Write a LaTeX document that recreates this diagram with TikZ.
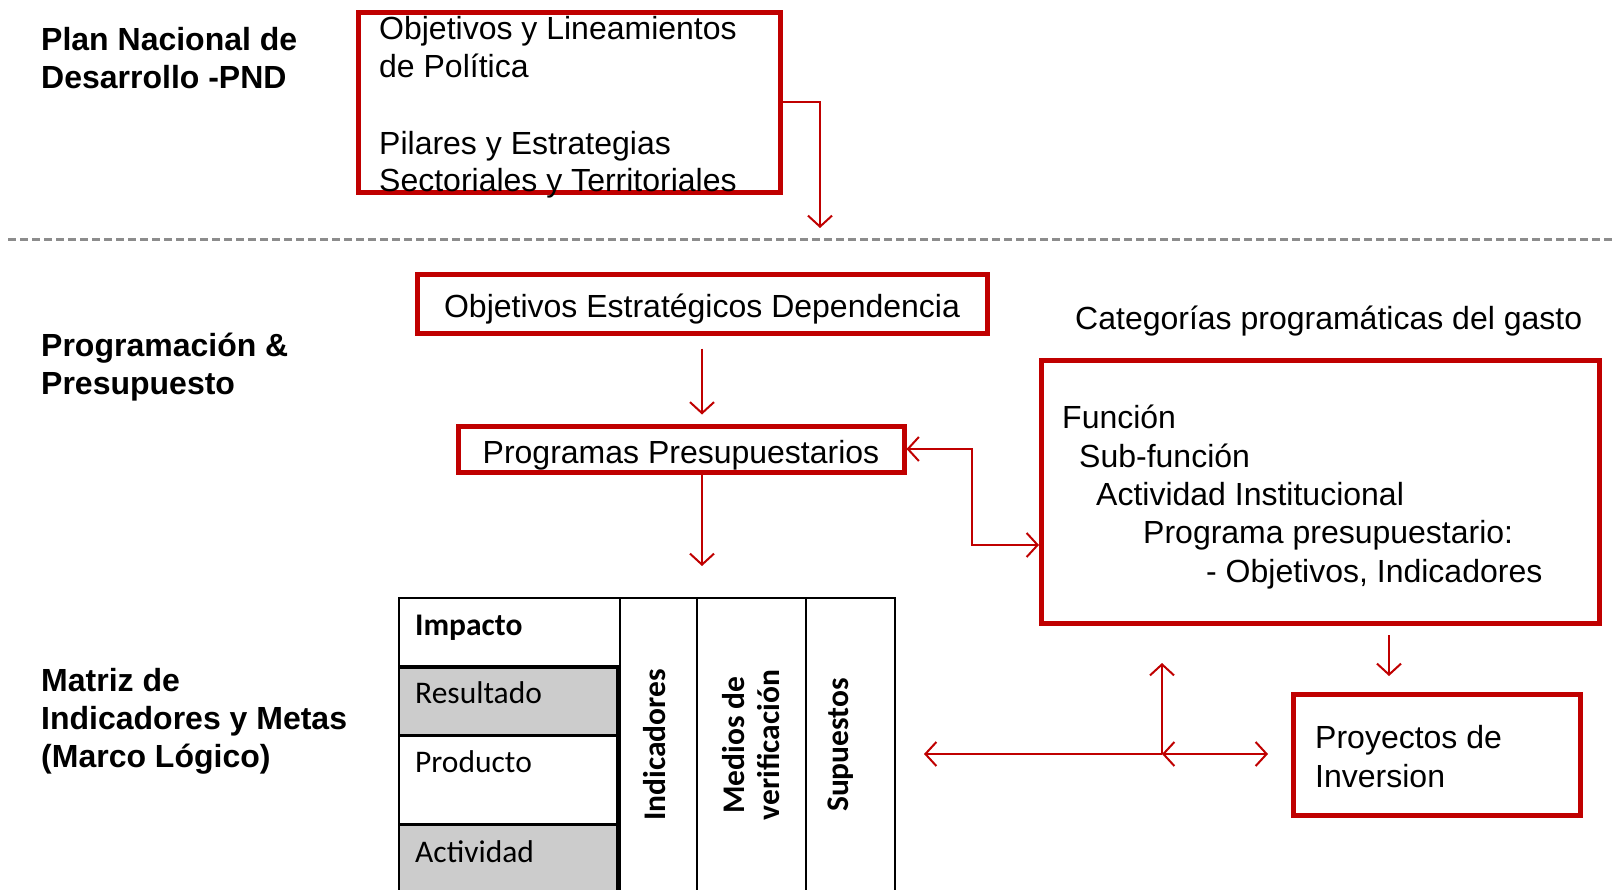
\documentclass[tikz,border=0pt]{standalone}
\usepackage{fontspec}
\setmainfont{Liberation Sans}
\newfontfamily\calfont{Carlito}
\usetikzlibrary{arrows.meta}
\definecolor{rd}{HTML}{C00000}
\definecolor{grfill}{HTML}{CCCCCC}
\definecolor{dashgray}{HTML}{8C8C8C}
\tikzset{
  barbtip/.tip={Straight Barb[length=11pt,width=24pt,line width=2pt]},
  redbox/.style={draw=rd,line width=5pt,inner sep=0pt},
  conn/.style={draw=rd,line width=2pt,-{barbtip}},
  conn2/.style={draw=rd,line width=2pt,{barbtip}-{barbtip}},
  txt/.style={inner sep=0pt,anchor=base west,font=\fontsize{32}{38}\selectfont},
  lbl/.style={inner sep=0pt,anchor=base west,font=\bfseries\fontsize{32}{38}\selectfont},
  mtx/.style={inner sep=0pt,anchor=base west,font=\calfont\fontsize{31.5}{38}\selectfont},
  vtx/.style={inner sep=0pt,rotate=90,align=center,font=\calfont\bfseries\fontsize{31.5}{35}\selectfont},
  mline/.style={draw=black,line width=2.5pt},
}
\begin{document}
\begin{tikzpicture}[x=1pt,y=1pt]
\useasboundingbox[fill=white] (0,0) rectangle (1613,-890);
\begin{scope}
\clip (0,0) rectangle (1613,-890);

% left labels
\node[lbl] (l1) at (41,-51) {Plan Nacional de};
\node[lbl] (l2) at (41,-89) {Desarrollo -PND};
\node[lbl] (l3) at (41,-356) {Programación \&};
\node[lbl] (l4) at (41,-394) {Presupuesto};
\node[lbl] (l5) at (41,-691) {Matriz de};
\node[lbl] (l6) at (41,-729) {Indicadores y Metas};
\node[lbl] (l7) at (41,-767) {(Marco Lógico)};

% dashed separator
\draw[dashgray,line width=3pt,dash pattern=on 8pt off 4pt] (8,-240) -- (1613,-240);

% top box
\node[redbox,minimum width=422pt,minimum height=180pt] (pnd) at (569.5,-102.5) {};
\node[txt] (t1) at (379,-40) {Objetivos y Lineamientos};
\node[txt] (t2) at (379,-78) {de Política};
\node[txt] (t3) at (379,-155) {Pilares y Estrategias};
\node[txt] (t4) at (379,-192) {Sectoriales y Territoriales};
\coordinate (a1) at (820,-228);
\draw[conn] (pnd.east) -| (a1);

% programming boxes
\node[redbox,minimum width=570pt,minimum height=58pt,text height=35pt,text depth=7pt,font=\fontsize{32}{38}\selectfont] (oed) at (702,-304) {Objetivos Estratégicos Dependencia};
\node[redbox,minimum width=446pt,minimum height=46pt,text height=35pt,text depth=7pt,font=\fontsize{32}{38}\selectfont] (prog) at (681,-449) {Programas Presupuestarios};
\draw[conn,shorten <=13pt,shorten >=9pt] (oed.south) -- (oed.south |- prog.north);
\coordinate (m1) at (702,-566);
\draw[conn] (m1 |- prog.south) -- (m1);

% categorias
\node[txt] (catl) at (1075,-330) {Categorías programáticas del gasto};
\node[redbox,minimum width=558pt,minimum height=263pt] (cat) at (1320.5,-492) {};
\node[txt] (c1) at (1062,-428) {Función};
\node[txt] (c2) at (1079,-467) {Sub-función};
\node[txt] (c3) at (1096,-505) {Actividad Institucional};
\node[txt] (c4) at (1143,-543) {Programa presupuestario:};
\node[txt] (c5) at (1206,-582) {- Objetivos, Indicadores};
\coordinate (k1) at (972,-449);
\draw[conn2] (prog.east) -- (k1) |- ([yshift=-53pt]cat.west);

% proyectos
\node[redbox,minimum width=287pt,minimum height=121pt] (proy) at (1437,-755) {};
\node[txt] (p1) at (1315,-748) {Proyectos de};
\node[txt] (p2) at (1315,-787) {Inversion};
\coordinate (d1) at (1389,-635);
\coordinate (d2) at (1389,-676);
\draw[conn] (d1) -- (d2);

% cross arrows
\coordinate (j) at (1162,-754);
\coordinate (jl) at (924,-754);
\coordinate (ju) at (1162,-663);
\coordinate (jr) at (1268,-754);
\draw[conn] (j) -- (jl);
\draw[conn] (j) -- (ju);
\draw[conn2] (j) -- (jr);

% matrix
\fill[grfill] (399,-667) rectangle (619,-735);
\fill[grfill] (399,-824) rectangle (619,-900);
\draw[mline] (399,-900) -- (399,-598) -- (895,-598) -- (895,-900);
\draw[mline] (620,-598) -- (620,-900);
\draw[mline] (697,-598) -- (697,-900);
\draw[mline] (806,-598) -- (806,-900);
\draw[draw=black,line width=4pt] (399,-667) -- (621,-667);
\draw[draw=black,line width=3pt] (399,-735) -- (621,-735);
\draw[draw=black,line width=3pt] (399,-824) -- (621,-824);
\draw[draw=black,line width=3.5pt] (618,-667) -- (618,-900);
\node[mtx,font=\calfont\bfseries\fontsize{31.5}{38}\selectfont] (r1) at (415,-635) {Impacto};
\node[mtx] (r2) at (415,-703) {Resultado};
\node[mtx] (r3) at (415,-772) {Producto};
\node[mtx] (r4) at (415,-862) {Actividad};
\node[vtx] (v1) at (655,-745) {Indicadores};
\node[vtx] (v2) at (751,-745) {Medios de\\verificación};
\node[vtx] (v3) at (841,-745) {Supuestos};
\end{scope}
\end{tikzpicture}
\end{document}
